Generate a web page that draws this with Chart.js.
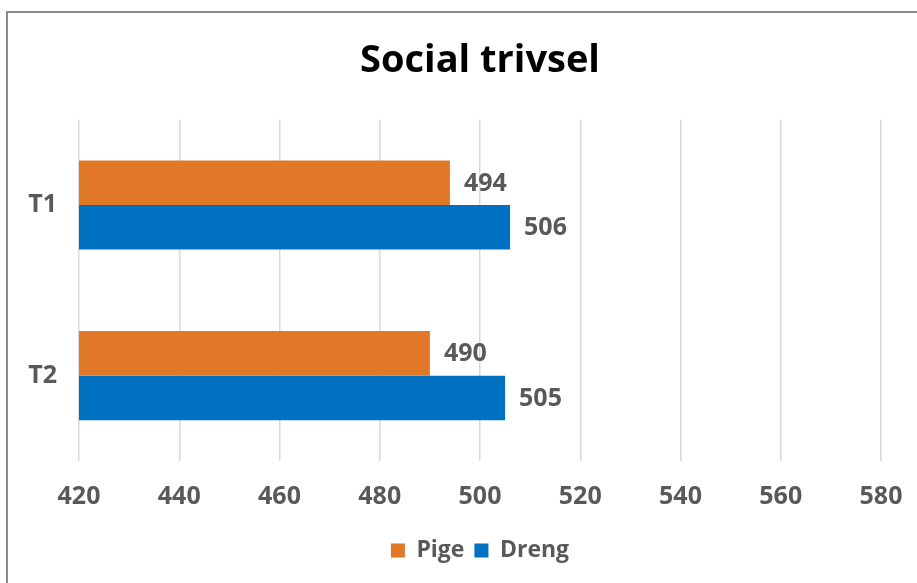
<!DOCTYPE html>
<html>
<head>
<meta charset="utf-8">
<script src="https://cdn.jsdelivr.net/npm/chart.js@4.4.1/dist/chart.umd.min.js"></script>
<style>
  html, body { margin: 0; padding: 0; background: #fff; overflow: hidden; }
  #frame {
    position: absolute; left: 6px; top: 11px; width: 1000px; height: 700px;
    border-top: 2px solid #8c8c8c; border-left: 2px solid #8c8c8c;
  }
  #wrap { position: absolute; left: 0; top: 0; width: 917px; height: 583px; }
</style>
</head>
<body>
<div id="frame"></div>
<div id="wrap"><canvas id="chart"></canvas></div>
<script>
// --- data ---
const categories = ['T1', 'T2'];
const pigeValues = [494, 490];
const drengValues = [506, 505];
const xTicks = [420, 440, 460, 480, 500, 520, 540, 560, 580];

const FONT = "'Open Sans', 'Noto Sans', sans-serif";
const GREY = '#595959';

// draw value at end of each bar
const endLabels = {
    id: 'endLabels',
    afterDatasetsDraw(chart) {
        const ctx = chart.ctx;
        ctx.save();
        ctx.font = 'bold 25px ' + FONT;
        ctx.fillStyle = GREY;
        ctx.textAlign = 'left';
        ctx.textBaseline = 'middle';
        chart.data.datasets.forEach((ds, i) => {
            chart.getDatasetMeta(i).data.forEach((bar, j) => {
                ctx.fillText(ds.data[j], bar.x + 14, bar.y + 1);
            });
        });
        ctx.restore();
    }
};

new Chart(document.getElementById('chart'), {
    type: 'bar',
    data: {
        labels: categories,
        datasets: [
            { label: 'Pige', data: pigeValues, backgroundColor: '#E07828',
              categoryPercentage: 0.522, barPercentage: 1 },
            { label: 'Dreng', data: drengValues, backgroundColor: '#0070C0',
              categoryPercentage: 0.522, barPercentage: 1 }
        ]
    },
    options: {
        indexAxis: 'y',
        responsive: true,
        maintainAspectRatio: false,
        animation: false,
        layout: { padding: { left: 28, right: 36, top: 0, bottom: 11 } },
        scales: {
            x: {
                min: xTicks[0],
                max: xTicks[xTicks.length - 1],
                afterBuildTicks: (axis) => { axis.ticks = xTicks.map(v => ({ value: v })); },
                afterFit: (axis) => {
                    axis.height = 68;
                    axis.paddingLeft = 0;
                    axis.paddingRight = 0;
                },
                grid: { color: '#d9d9d9', lineWidth: 1.5, drawTicks: false },
                border: { display: false },
                ticks: { color: GREY, padding: 21, font: { family: FONT, size: 25, weight: 'bold' } }
            },
            y: {
                afterFit: (axis) => { axis.width = 51; },
                grid: { display: false, drawTicks: false },
                border: { display: false },
                ticks: { color: GREY, padding: 22, font: { family: FONT, size: 25, weight: 'bold' } }
            }
        },
        plugins: {
            title: {
                display: true,
                fullSize: false,
                text: 'Social trivsel',
                color: '#000',
                font: { family: FONT, size: 38, weight: 'bold' },
                padding: { top: 38, bottom: 36 }
            },
            legend: {
                position: 'bottom',
                fullSize: false,
                labels: {
                    color: GREY,
                    boxWidth: 14,
                    boxHeight: 14,
                    padding: 10,
                    font: { family: FONT, size: 23, weight: 'bold' }
                }
            },
            tooltip: { enabled: false }
        }
    },
    plugins: [endLabels]
});
</script>
</body>
</html>
